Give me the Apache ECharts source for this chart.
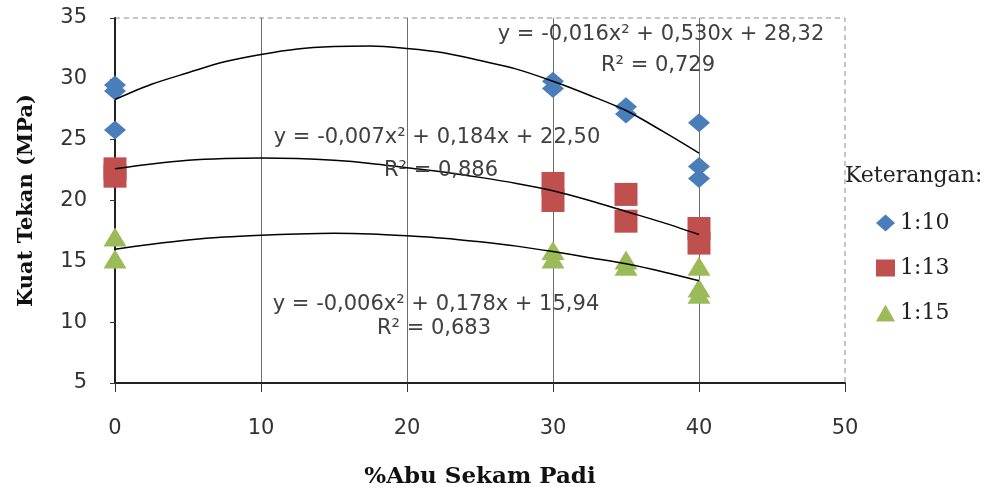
<!DOCTYPE html>
<html>
<head>
<meta charset="utf-8">
<script src="https://cdn.jsdelivr.net/npm/echarts@6/dist/echarts.min.js"></script>
<style>
  html, body { margin: 0; padding: 0; background: #fff; }
  #main { width: 989px; height: 487px; }
</style>
</head>
<body>
<div id="main"></div>
<script>
// measured points, % abu sekam padi vs kuat tekan (MPa)
const blueX = [0, 0, 0, 30, 30, 35, 35, 40, 40, 40];
const blueY = [29.5, 29.0, 25.8, 29.8, 29.2, 27.7, 27.1, 26.4, 22.8, 21.8];
const redX = [0, 0, 30, 30, 35, 35, 40, 40];
const redY = [22.6, 22.0, 21.4, 20.0, 20.5, 18.3, 17.7, 16.5];
const greenX = [0, 0, 30, 30, 35, 35, 40, 40, 40];
const greenY = [17.0, 15.2, 15.9, 15.2, 15.1, 14.6, 14.6, 12.8, 12.3];

// trend curves
const trendX = [0, 2.5, 5, 7.5, 10, 12.5, 15, 17.5, 20, 22.5, 25, 27.5, 30, 32.5, 35, 37.5, 40];
const blueTrend = [28.3, 29.55, 30.5, 31.4, 32.0, 32.45, 32.65, 32.7, 32.5, 32.15, 31.5, 30.8, 29.8, 28.65, 27.4, 25.7, 23.9];
const redTrend = [22.6, 23.0, 23.3, 23.45, 23.5, 23.45, 23.3, 23.05, 22.7, 22.35, 21.9, 21.4, 20.8, 20.0, 19.1, 18.2, 17.2];
const greenTrend = [16.0, 16.4, 16.75, 17.0, 17.15, 17.25, 17.3, 17.25, 17.1, 16.9, 16.6, 16.25, 15.8, 15.3, 14.8, 14.15, 13.4];

const xTicks = [0, 50, 10];   // min, max, interval
const yTicks = [5, 35, 5];

const seriesNames = ['1:10', '1:13', '1:15'];
const colors = ['#4a7ebb', '#c0504d', '#9bbb59'];

function pairs(xs, ys) {
  return xs.map((x, i) => [x, ys[i]]);
}

const chart = echarts.init(document.getElementById('main'), null, { renderer: 'canvas' });

const sans = '"DejaVu Sans", sans-serif';
const serif = '"DejaVu Serif", serif';

function trendLine(ys) {
  return {
    type: 'line',
    data: pairs(trendX, ys),
    smooth: 0.3,
    symbol: 'none',
    silent: true,
    lineStyle: { color: '#000', width: 1.5 },
    z: 3
  };
}

function eqText(txt, x, y) {
  return {
    type: 'text', x: x, y: y, z: 10,
    style: { text: txt, font: '21px ' + sans, fill: '#404040', align: 'center', verticalAlign: 'middle' }
  };
}

var option = {
  animation: false,
  grid: {
    left: 115,
    top: 18,
    right: 144,
    bottom: 104,
    containLabel: false,
    outerBoundsMode: 'none',
    show: true,
    borderColor: '#8c8c8c',
    borderWidth: 1,
    borderType: [5, 4]
  },
  legend: {
    data: seriesNames,
    orient: 'vertical',
    left: 871,
    top: 205,
    itemGap: 19,
    itemWidth: 19,
    itemHeight: 17,
    textStyle: { fontFamily: serif, fontSize: 22, lineHeight: 26, color: '#222' }
  },
  xAxis: {
    type: 'value',
    min: xTicks[0],
    max: xTicks[1],
    interval: xTicks[2],
    name: '%Abu Sekam Padi',
    nameLocation: 'middle',
    nameGap: 83,
    nameTextStyle: { fontFamily: serif, fontWeight: 'bold', fontSize: 23, color: '#111' },
    axisLine: { onZero: false, lineStyle: { color: '#222', width: 2 } },
    axisTick: { length: 9, lineStyle: { color: '#333' } },
    axisLabel: { margin: 35, fontFamily: sans, fontSize: 21, color: '#333' },
    splitLine: {
      show: true,
      showMinLine: false,
      showMaxLine: false,
      lineStyle: { color: '#6e6e6e', width: 1 }
    }
  },
  yAxis: {
    type: 'value',
    min: yTicks[0],
    max: yTicks[1],
    interval: yTicks[2],
    name: 'Kuat Tekan (MPa)',
    nameLocation: 'middle',
    nameGap: 78,
    nameTextStyle: { fontFamily: serif, fontWeight: 'bold', fontSize: 21, color: '#111' },
    axisLine: { show: true, onZero: false, lineStyle: { color: '#222', width: 2 } },
    axisTick: { show: true, length: 5, lineStyle: { color: '#333' } },
    axisLabel: { margin: 28, fontFamily: sans, fontSize: 21, color: '#333' },
    splitLine: { show: false }
  },
  series: [
    trendLine(blueTrend),
    trendLine(redTrend),
    trendLine(greenTrend),
    {
      name: seriesNames[0],
      type: 'scatter',
      data: pairs(blueX, blueY),
      symbol: 'diamond',
      symbolSize: [22, 19],
      itemStyle: { color: colors[0], opacity: 1 },
      z: 2
    },
    {
      name: seriesNames[1],
      type: 'scatter',
      data: pairs(redX, redY),
      symbol: 'rect',
      symbolSize: [23, 23],
      itemStyle: { color: colors[1], opacity: 1 },
      z: 2
    },
    {
      name: seriesNames[2],
      type: 'scatter',
      data: pairs(greenX, greenY),
      symbol: 'triangle',
      symbolSize: [23, 19],
      itemStyle: { color: colors[2], opacity: 1 },
      z: 2
    }
  ],
  graphic: [
    { type: 'text', left: 845, top: 165, style: { text: 'Keterangan:', font: '22px ' + serif, fill: '#222' } },
    // trendline equations
    eqText('y = -0,016x² + 0,530x + 28,32', 661, 35),
    eqText('R² = 0,729', 658, 66),
    eqText('y = -0,007x² + 0,184x + 22,50', 437, 138),
    eqText('R² = 0,886', 441, 171),
    eqText('y = -0,006x² + 0,178x + 15,94', 436, 305),
    eqText('R² = 0,683', 434, 329)
  ]
};

chart.setOption(option);
</script>
</body>
</html>
